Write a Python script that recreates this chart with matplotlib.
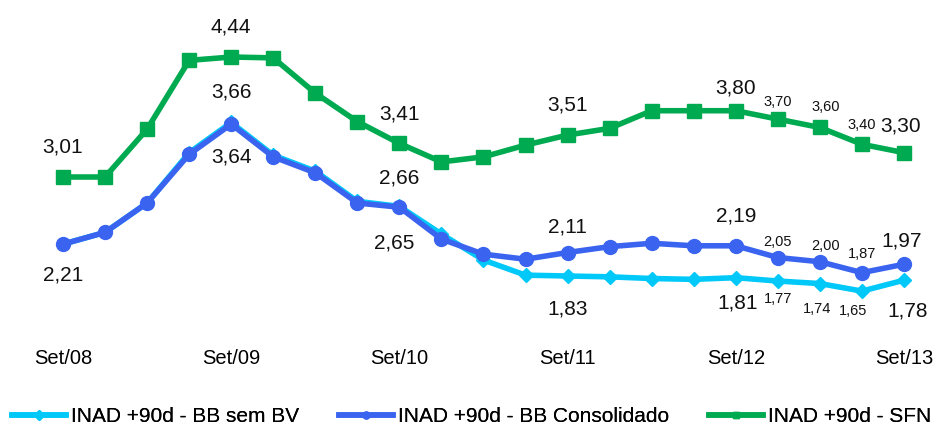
import matplotlib
matplotlib.use('Agg')
import matplotlib.pyplot as plt
from matplotlib.lines import Line2D

# quarterly data, Set/08 .. Set/13
tick_labels = ['Set/08', 'Set/09', 'Set/10', 'Set/11', 'Set/12', 'Set/13']
bb_sem_bv = [2.21, 2.35, 2.70, 3.30, 3.66, 3.27, 3.08, 2.72, 2.66, 2.33, 2.02,
             1.84, 1.83, 1.82, 1.80, 1.79, 1.81, 1.77, 1.74, 1.65, 1.78]
bb_consolidado = [2.21, 2.35, 2.70, 3.28, 3.64, 3.25, 3.06, 2.70, 2.65, 2.27, 2.09,
                  2.03, 2.11, 2.18, 2.22, 2.19, 2.19, 2.05, 2.00, 1.87, 1.97]
sfn = [3.01, 3.01, 3.58, 4.40, 4.44, 4.43, 4.01, 3.67, 3.41, 3.19, 3.25,
       3.39, 3.51, 3.59, 3.80, 3.80, 3.80, 3.70, 3.60, 3.40, 3.30]
series_names = ['INAD +90d - BB sem BV', 'INAD +90d - BB Consolidado', 'INAD +90d - SFN']

# (index, dx, dy, small) for the value labels
lbl_sem_bv = [(4, 0, 30, False), (8, 0, 28, False), (12, 0, -33, False), (16, 2, -25, False),
              (17, 0, -18, True), (18, -3, -25, True), (19, -9, -20, True), (20, 4, -31, False)]
lbl_cons = [(0, 0, -31, False), (4, 0, -33, False), (8, -5, -36, False), (12, 0, 26, False),
            (16, 0, 30, False), (17, 0, 16, True), (18, 6, 16, True), (19, 0, 19, True),
            (20, -2, 23, False)]
lbl_sfn = [(0, 0, 30, False), (4, 0, 30, False), (8, 0, 29, False), (12, 0, 30, False),
           (16, 0, 23, False), (17, 0, 17, True), (18, 6, 20, True), (19, 0, 19, True),
           (20, -3, 27, False)]

c_light = '#00c8f8'
c_blue = '#3a64f0'
c_green = '#00aa50'

plt.rcParams['font.family'] = ['Liberation Sans', 'DejaVu Sans']

W, H = 941, 428
fig = plt.figure(figsize=(W / 100, H / 100), dpi=100)
# axes placed in pixel terms: x from 20 to 921, y from 20 to 335 (top-down)
ax = fig.add_axes([20 / W, (H - 335) / H, 901 / W, 315 / H])

x = list(range(len(sfn)))
ax.plot(x, bb_sem_bv, color=c_light, lw=4, marker='D', ms=7.5, zorder=2)
ax.plot(x, bb_consolidado, color=c_blue, lw=4, marker='o', ms=10, zorder=3)
ax.plot(x, sfn, color=c_green, lw=4, marker='s', ms=10, zorder=3)

step = 42.05
ax.set_xlim(-43 / step, 20 + 17 / step)
ppu = 83.9
ax.set_ylim(3.01 - (335 - 177) / ppu, 3.01 + (177 - 20) / ppu)


def put_labels(vals, specs):
    for i, dx, dy, small in specs:
        ax.annotate(f'{vals[i]:.2f}'.replace('.', ','), (i, vals[i]),
                    xytext=(dx, dy), textcoords='offset pixels',
                    ha='center', va='center', fontsize=10.5 if small else 15, color='#111111')


put_labels(bb_sem_bv, lbl_sem_bv)
put_labels(bb_consolidado, lbl_cons)
put_labels(sfn, lbl_sfn)

ax.set_xticks(x[::4])
ax.set_xticklabels(tick_labels, fontsize=14.5)
ax.tick_params(axis='x', length=0, pad=10)
ax.set_yticks([])
for s in ax.spines.values():
    s.set_visible(False)

# legend entries, one per series, placed along the bottom
leg_x = [12, 339, 709]
leg_style = [(c_light, 'D'), (c_blue, 'o'), (c_green, 's')]
for lx, (col, mk), name in zip(leg_x, leg_style, series_names):
    h = Line2D([], [], color=col, lw=4, marker=mk, ms=5)
    lg = fig.legend([h], [name], loc='center left', bbox_to_anchor=(lx / W, 1 - 417 / H),
                    frameon=False, fontsize=15, handlelength=2.6, handletextpad=0.25,
                    borderpad=0, borderaxespad=0)
    fig.add_artist(lg)

fig.savefig('out.png', dpi=100)
